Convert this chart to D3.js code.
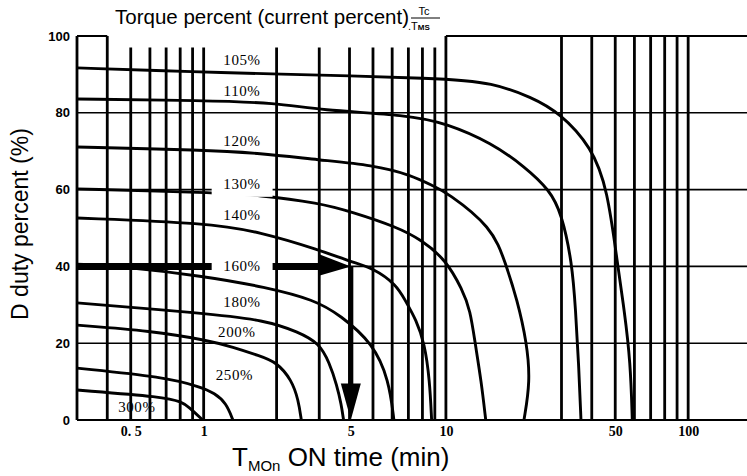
<!DOCTYPE html>
<html>
<head>
<meta charset="utf-8">
<script src="https://cdn.jsdelivr.net/npm/d3@7"></script>
<style>
  body { margin: 0; background: #fff; }
  svg { display: block; }
</style>
</head>
<body>
<div class="chart"></div>
<script>
// ON time (min) vs duty (%) for each torque percent
var gridTimes = [0.3, 0.4, 0.5, 0.6, 0.7, 0.8, 0.9, 1, 2, 3, 4, 5, 6, 7, 8, 9, 10, 30, 40, 50, 60, 70, 80, 90, 100];
var tallTimes = [0.3, 0.4, 10, 30, 40, 50, 60, 70, 80, 90, 100];
var dutyGrid = [20, 40, 60, 80];
var dutyTicks = [0, 20, 40, 60, 80, 100];
var timeTickLabels = ['0. 5', '1', '5', '10', '50', '100'];
var timeTickAt = [0.5, 1, 4.05, 10, 50, 100]; // the "5" sits under the arrow in the original
var torqueLabels = ['105%', '110%', '120%', '130%', '140%', '160%', '180%', '200%', '250%', '300%'];

var curve105 = [[0.3, 91.7], [1, 90.6], [1.7, 90.2], [10, 89], [15.5, 87.8], [22.6, 84.1], [29.5, 80], [40, 71.1], [46.5, 60], [51, 40.9], [54.5, 28.6], [57.8, 15], [58.8, 0]];
var curve110 = [[0.3, 83.6], [1, 83.2], [2, 82.6], [3, 80.7], [7, 79.4], [10, 77.3], [15.5, 72.1], [21.2, 65.9], [26.8, 59.9], [30, 53.9], [33.2, 40.9], [34.3, 28.6], [35.3, 15], [36.1, 0]];
var curve120 = [[0.3, 71.1], [1, 70.3], [1.7, 69.5], [3, 67.7], [5, 66.4], [7.2, 63.8], [9, 60.7], [10, 59.4], [15.5, 50.3], [17.6, 40.9], [19.7, 31.3], [21.6, 20], [22.3, 10], [21, 0]];
var curve130 = [[0.3, 60.2], [1.08, 59.2], [1.7, 58.6], [3, 56.5], [4.08, 54.2], [6.25, 50.3], [7.93, 46.9], [10, 41.7], [11.7, 33.9], [12.6, 28.6], [13.2, 20], [14, 10], [14.6, 0]];
var curve140 = [[0.3, 52.6], [1.04, 51.3], [1.7, 49], [3, 44.3], [4.08, 41.1], [5, 39.6], [6.25, 35.2], [6.77, 31.3], [7.55, 26], [8.16, 20], [8.57, 10.4], [8.73, 0]];
var curve160 = [[0.3, 40.6], [0.44, 40.1], [1, 37.5], [1.8, 34.6], [2.87, 31.3], [3.66, 27.3], [5, 20], [5.82, 10.4], [6.1, 0]];
var curve180 = [[0.3, 30.5], [1, 27.8], [1.8, 26], [2.46, 22.9], [3, 20], [3.3, 15], [3.55, 9], [3.7, 4], [3.78, 0]];
var curve200 = [[0.3, 24.7], [0.61, 23.2], [1.03, 20.8], [1.32, 19], [1.7, 16.7], [2, 15.1], [2.31, 10.4], [2.46, 5.2], [2.53, 0]];
var curve250 = [[0.3, 13.5], [0.69, 11.2], [0.97, 8.6], [1.11, 7], [1.24, 4.4], [1.32, 0]];
var curve300 = [[0.3, 7.8], [0.69, 6], [0.81, 4.7], [0.87, 3.4], [0.99, 0]];

var arrowDuty = 40, arrowTime = 4.05;

(() => {
var width = 747,
    height = 476;

var sans = '"Liberation Sans", Arial, sans-serif',
    serif = '"Liberation Serif", "Times New Roman", serif';

var svg = d3.select('div.chart')
    .append('svg')
        .attr('width', width)
        .attr('height', height);

var x = d3.scaleLog()
    .domain([0.3, 180])
    .range([77, 750]);

var y = d3.scaleLinear()
    .domain([0, 100])
    .range([420, 36]);

// horizontal grid
svg.append('g')
    .selectAll('line')
    .data(dutyGrid)
    .enter()
    .append('line')
        .attr('x1', x(0.3))
        .attr('x2', width)
        .attr('y1', d => y(d))
        .attr('y2', d => y(d))
        .attr('stroke', '#000')
        .attr('stroke-width', 1.6);

// top border, broken where the title sits
svg.append('g')
    .selectAll('line')
    .data([[0.3, 0.4], [10, 180]])
    .enter()
    .append('line')
        .attr('x1', d => x(d[0]))
        .attr('x2', d => x(d[1]))
        .attr('y1', y(100))
        .attr('y2', y(100))
        .attr('stroke', '#000')
        .attr('stroke-width', 2);

// bottom border
svg.append('line')
    .attr('x1', x(0.3))
    .attr('x2', width)
    .attr('y1', y(0))
    .attr('y2', y(0))
    .attr('stroke', '#000')
    .attr('stroke-width', 2);

// vertical grid
svg.append('g')
    .selectAll('line')
    .data(gridTimes)
    .enter()
    .append('line')
        .attr('x1', d => x(d))
        .attr('x2', d => x(d))
        .attr('y1', y(0))
        .attr('y2', d => tallTimes.indexOf(d) >= 0 ? y(100) : y(97))
        .attr('stroke', '#000')
        .attr('stroke-width', 2.8);

// torque curves
var curves = [curve105, curve110, curve120, curve130, curve140, curve160, curve180, curve200, curve250, curve300];
var line = d3.line()
    .x(d => x(d[0]))
    .y(d => y(d[1]))
    .curve(d3.curveBasis);

svg.append('g')
    .selectAll('path')
    .data(curves)
    .enter()
    .append('path')
        .attr('d', line)
        .attr('fill', 'none')
        .attr('stroke', '#000')
        .attr('stroke-width', 2.9);

// arrow: duty 40% across, then down to the time axis
var ay = y(arrowDuty), ax = x(arrowTime);
svg.append('line')
    .attr('x1', x(0.3)).attr('x2', ax - 30)
    .attr('y1', ay).attr('y2', ay)
    .attr('stroke', '#000').attr('stroke-width', 7);
svg.append('path')
    .attr('d', 'M' + (ax - 31) + ',' + (ay - 12) + 'L' + ax + ',' + ay + 'L' + (ax - 31) + ',' + (ay + 9) + 'Z')
    .attr('fill', '#000');
svg.append('line')
    .attr('x1', ax).attr('x2', ax)
    .attr('y1', ay).attr('y2', y(9))
    .attr('stroke', '#000').attr('stroke-width', 5);
svg.append('path')
    .attr('d', 'M' + (ax - 10) + ',' + y(9.5) + 'L' + (ax + 10) + ',' + y(9.5) + 'L' + ax + ',' + y(0) + 'Z')
    .attr('fill', '#000');

// curve labels (layout: time, duty of the text baseline centre)
var labelSpots = [[1.44, 92.4], [1.44, 84.4], [1.44, 71.4], [1.44, 60.2], [1.44, 52.1], [1.44, 38.8], [1.44, 29.4], [1.37, 21.6], [1.34, 10.4], [0.53, 2.1]];
var masked = {'130%': [13, 8], '160%': [15, 1]};

var lab = svg.append('g')
    .selectAll('g')
    .data(torqueLabels)
    .enter()
    .append('g');

lab.each(function(d, i) {
    var g = d3.select(this);
    var cx = x(labelSpots[i][0]), by = y(labelSpots[i][1]);
    if (masked[d]) {
        g.append('rect')
            .attr('x', x(1) + 8)
            .attr('width', x(2) - x(1) - 12)
            .attr('y', by - masked[d][0])
            .attr('height', masked[d][0] + masked[d][1])
            .attr('fill', '#fff');
    }
    g.append('text')
        .attr('x', cx)
        .attr('y', by)
        .attr('text-anchor', 'middle')
        .style('font-family', serif)
        .style('font-size', '15px')
        .style('letter-spacing', '0.6px')
        .text(d);
});

// y axis
var yAxis = svg.append('g')
    .attr('transform', 'translate(' + x(0.3) + ',0)')
    .call(d3.axisLeft(y).tickValues(dutyTicks).tickSize(0).tickPadding(7));
yAxis.select('.domain').remove();
yAxis.selectAll('text')
    .style('font-family', sans)
    .style('font-weight', 'bold')
    .style('font-size', '13px')
    .attr('fill', '#000');

// x axis
var xAxis = svg.append('g')
    .attr('transform', 'translate(0,' + y(0) + ')')
    .call(d3.axisBottom(x).tickValues(timeTickAt).tickFormat((d, i) => timeTickLabels[i]).tickSize(0).tickPadding(6));
xAxis.select('.domain').remove();
xAxis.selectAll('text')
    .style('font-family', serif)
    .style('font-weight', 'bold')
    .style('font-size', '14px')
    .attr('fill', '#000');

// title
svg.append('text')
    .attr('x', 115)
    .attr('y', 24)
    .style('font-family', sans)
    .style('font-size', '20.5px')
    .text('Torque percent (current percent)');

var frac = svg.append('g')
    .style('font-family', sans)
    .style('font-size', '11px');
frac.append('text')
    .attr('x', 424).attr('y', 15)
    .attr('text-anchor', 'middle')
    .text('Tc');
frac.append('line')
    .attr('x1', 411).attr('x2', 440)
    .attr('y1', 18).attr('y2', 18)
    .attr('stroke', '#000').attr('stroke-width', 1);
var ms = frac.append('text')
    .attr('x', 408).attr('y', 30);
ms.append('tspan').text('.T');
ms.append('tspan').style('font-size', '8px').style('font-weight', 'bold').text('MS');

// axis titles
svg.append('text')
    .attr('transform', 'translate(28,224) rotate(-90)')
    .attr('text-anchor', 'middle')
    .style('font-family', sans)
    .style('font-size', '23px')
    .text('D duty percent (%)');

var xt = svg.append('text')
    .attr('x', 232)
    .attr('y', 466)
    .style('font-family', sans)
    .style('font-size', '26px');
xt.append('tspan').text('T');
xt.append('tspan').attr('dy', 5).style('font-size', '15px').text('MOn');
xt.append('tspan').attr('dy', -5).text(' ON time (min)');
})();
</script>
</body>
</html>
